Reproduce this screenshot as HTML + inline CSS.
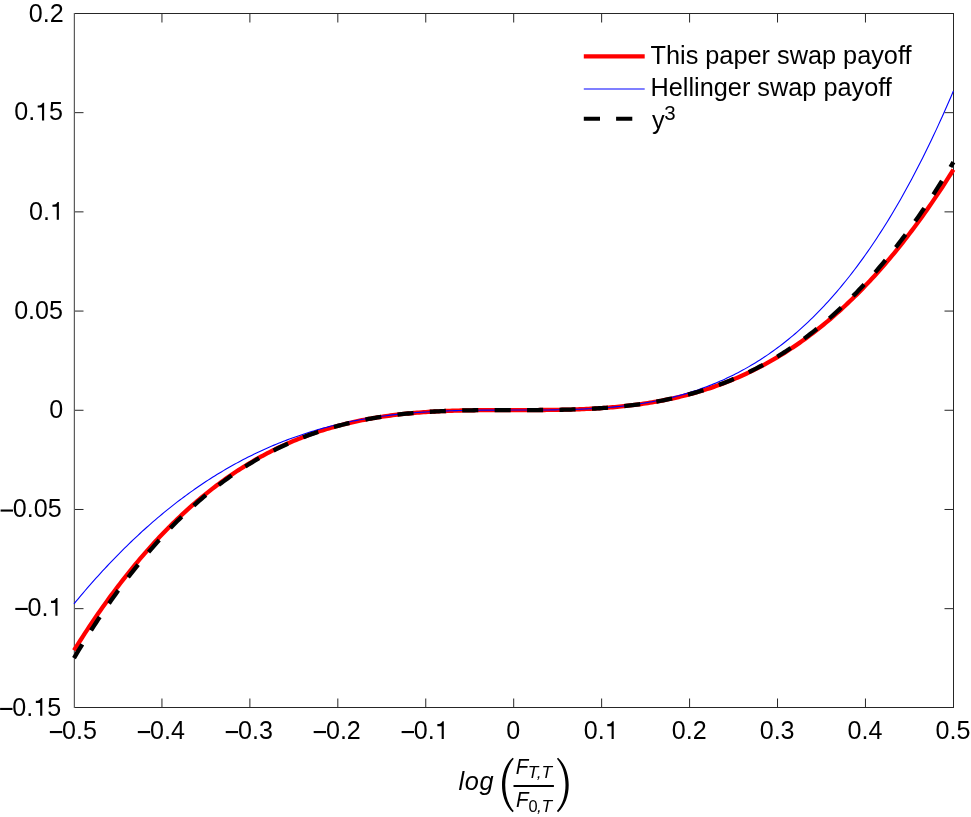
<!DOCTYPE html>
<html><head><meta charset="utf-8"><style>
html,body{margin:0;padding:0;background:#fff;}
body{width:971px;height:817px;overflow:hidden;}
svg{display:block;will-change:transform;}
text{font-family:"Liberation Sans",sans-serif;fill:#000;}
</style></head><body>
<svg width="971" height="817" viewBox="0 0 971 817">
<rect width="971" height="817" fill="#fff"/>
<path d="M161.94,707.5 V698.5 M161.94,13.5 V22.5 M249.88,707.5 V698.5 M249.88,13.5 V22.5 M337.82,707.5 V698.5 M337.82,13.5 V22.5 M425.76,707.5 V698.5 M425.76,13.5 V22.5 M513.70,707.5 V698.5 M513.70,13.5 V22.5 M601.64,707.5 V698.5 M601.64,13.5 V22.5 M689.58,707.5 V698.5 M689.58,13.5 V22.5 M777.52,707.5 V698.5 M777.52,13.5 V22.5 M865.46,707.5 V698.5 M865.46,13.5 V22.5 M74.5,112.67 H83.5 M953.5,112.67 H944.5 M74.5,211.87 H83.5 M953.5,211.87 H944.5 M74.5,311.07 H83.5 M953.5,311.07 H944.5 M74.5,410.27 H83.5 M953.5,410.27 H944.5 M74.5,509.47 H83.5 M953.5,509.47 H944.5 M74.5,608.67 H83.5 M953.5,608.67 H944.5" fill="none" stroke="#262626" stroke-width="1"/>
<path d="M74.0,13.5 H953.5 M74.0,707.5 H953.5 M953.5,13.0 V708.0" fill="none" stroke="#262626" stroke-width="1"/>
<rect x="74" y="13" width="1" height="695" fill="#5c5c5c"/><rect x="73" y="13" width="1" height="695" fill="#dadada"/>
<path d="M74.00,650.42 L76.20,646.91 L78.40,643.43 L80.60,639.98 L82.79,636.57 L84.99,633.19 L87.19,629.84 L89.39,626.53 L91.59,623.24 L93.79,619.99 L95.99,616.77 L98.18,613.59 L100.38,610.43 L102.58,607.31 L104.78,604.22 L106.98,601.16 L109.18,598.13 L111.37,595.14 L113.57,592.17 L115.77,589.24 L117.97,586.34 L120.17,583.46 L122.37,580.62 L124.57,577.81 L126.76,575.03 L128.96,572.28 L131.16,569.56 L133.36,566.86 L135.56,564.20 L137.76,561.57 L139.96,558.97 L142.15,556.39 L144.35,553.85 L146.55,551.34 L148.75,548.85 L150.95,546.39 L153.15,543.96 L155.34,541.56 L157.54,539.19 L159.74,536.84 L161.94,534.53 L164.14,532.24 L166.34,529.98 L168.54,527.75 L170.73,525.54 L172.93,523.36 L175.13,521.21 L177.33,519.08 L179.53,516.99 L181.73,514.91 L183.93,512.87 L186.12,510.85 L188.32,508.86 L190.52,506.89 L192.72,504.95 L194.92,503.04 L197.12,501.15 L199.31,499.28 L201.51,497.44 L203.71,495.63 L205.91,493.84 L208.11,492.08 L210.31,490.34 L212.51,488.62 L214.70,486.93 L216.90,485.26 L219.10,483.62 L221.30,482.00 L223.50,480.40 L225.70,478.83 L227.90,477.28 L230.09,475.76 L232.29,474.25 L234.49,472.77 L236.69,471.32 L238.89,469.88 L241.09,468.47 L243.28,467.08 L245.48,465.71 L247.68,464.36 L249.88,463.04 L252.08,461.73 L254.28,460.45 L256.48,459.19 L258.67,457.95 L260.87,456.73 L263.07,455.53 L265.27,454.36 L267.47,453.20 L269.67,452.06 L271.87,450.94 L274.06,449.84 L276.26,448.77 L278.46,447.71 L280.66,446.67 L282.86,445.65 L285.06,444.65 L287.25,443.66 L289.45,442.70 L291.65,441.76 L293.85,440.83 L296.05,439.92 L298.25,439.03 L300.45,438.16 L302.64,437.30 L304.84,436.46 L307.04,435.64 L309.24,434.84 L311.44,434.05 L313.64,433.28 L315.84,432.53 L318.03,431.79 L320.23,431.07 L322.43,430.36 L324.63,429.67 L326.83,429.00 L329.03,428.34 L331.22,427.70 L333.42,427.07 L335.62,426.46 L337.82,425.86 L340.02,425.28 L342.22,424.71 L344.42,424.16 L346.61,423.62 L348.81,423.09 L351.01,422.58 L353.21,422.08 L355.41,421.59 L357.61,421.12 L359.81,420.66 L362.00,420.22 L364.20,419.78 L366.40,419.36 L368.60,418.95 L370.80,418.56 L373.00,418.17 L375.19,417.80 L377.39,417.44 L379.59,417.09 L381.79,416.75 L383.99,416.42 L386.19,416.10 L388.39,415.80 L390.58,415.50 L392.78,415.22 L394.98,414.94 L397.18,414.68 L399.38,414.42 L401.58,414.17 L403.78,413.94 L405.97,413.71 L408.17,413.49 L410.37,413.28 L412.57,413.08 L414.77,412.89 L416.97,412.71 L419.16,412.53 L421.36,412.36 L423.56,412.20 L425.76,412.05 L427.96,411.91 L430.16,411.77 L432.36,411.64 L434.55,411.51 L436.75,411.40 L438.95,411.29 L441.15,411.18 L443.35,411.08 L445.55,410.99 L447.75,410.91 L449.94,410.83 L452.14,410.75 L454.34,410.68 L456.54,410.61 L458.74,410.55 L460.94,410.50 L463.13,410.45 L465.33,410.40 L467.53,410.36 L469.73,410.32 L471.93,410.28 L474.13,410.25 L476.33,410.22 L478.52,410.20 L480.72,410.17 L482.92,410.16 L485.12,410.14 L487.32,410.12 L489.52,410.11 L491.72,410.10 L493.91,410.09 L496.11,410.09 L498.31,410.08 L500.51,410.08 L502.71,410.07 L504.91,410.07 L507.10,410.07 L509.30,410.07 L511.50,410.07 L513.70,410.07 L515.90,410.07 L518.10,410.07 L520.30,410.07 L522.49,410.07 L524.69,410.07 L526.89,410.06 L529.09,410.06 L531.29,410.05 L533.49,410.05 L535.69,410.04 L537.88,410.03 L540.08,410.02 L542.28,410.00 L544.48,409.98 L546.68,409.97 L548.88,409.94 L551.07,409.92 L553.27,409.89 L555.47,409.86 L557.67,409.82 L559.87,409.78 L562.07,409.74 L564.27,409.69 L566.46,409.64 L568.66,409.59 L570.86,409.53 L573.06,409.46 L575.26,409.39 L577.46,409.31 L579.66,409.23 L581.85,409.15 L584.05,409.06 L586.25,408.96 L588.45,408.85 L590.65,408.74 L592.85,408.63 L595.04,408.50 L597.24,408.37 L599.44,408.23 L601.64,408.09 L603.84,407.94 L606.04,407.78 L608.24,407.61 L610.43,407.43 L612.63,407.25 L614.83,407.06 L617.03,406.86 L619.23,406.65 L621.43,406.43 L623.62,406.20 L625.82,405.97 L628.02,405.72 L630.22,405.46 L632.42,405.20 L634.62,404.92 L636.82,404.64 L639.01,404.34 L641.21,404.04 L643.41,403.72 L645.61,403.39 L647.81,403.05 L650.01,402.70 L652.21,402.34 L654.40,401.97 L656.60,401.58 L658.80,401.19 L661.00,400.78 L663.20,400.36 L665.40,399.92 L667.60,399.48 L669.79,399.02 L671.99,398.55 L674.19,398.06 L676.39,397.56 L678.59,397.05 L680.79,396.52 L682.98,395.98 L685.18,395.43 L687.38,394.86 L689.58,394.28 L691.78,393.68 L693.98,393.07 L696.18,392.44 L698.37,391.80 L700.57,391.14 L702.77,390.47 L704.97,389.78 L707.17,389.07 L709.37,388.35 L711.57,387.61 L713.76,386.86 L715.96,386.09 L718.16,385.30 L720.36,384.50 L722.56,383.68 L724.76,382.84 L726.95,381.98 L729.15,381.11 L731.35,380.22 L733.55,379.31 L735.75,378.38 L737.95,377.44 L740.15,376.48 L742.34,375.49 L744.54,374.49 L746.74,373.47 L748.94,372.43 L751.14,371.37 L753.34,370.30 L755.54,369.20 L757.73,368.08 L759.93,366.94 L762.13,365.78 L764.33,364.61 L766.53,363.41 L768.73,362.19 L770.92,360.95 L773.12,359.69 L775.32,358.41 L777.52,357.10 L779.72,355.78 L781.92,354.43 L784.12,353.06 L786.31,351.67 L788.51,350.26 L790.71,348.82 L792.91,347.37 L795.11,345.89 L797.31,344.38 L799.51,342.86 L801.70,341.31 L803.90,339.74 L806.10,338.14 L808.30,336.52 L810.50,334.88 L812.70,333.21 L814.89,331.52 L817.09,329.80 L819.29,328.06 L821.49,326.30 L823.69,324.51 L825.89,322.70 L828.09,320.86 L830.28,318.99 L832.48,317.10 L834.68,315.19 L836.88,313.25 L839.08,311.28 L841.28,309.29 L843.48,307.27 L845.67,305.23 L847.87,303.15 L850.07,301.06 L852.27,298.93 L854.47,296.78 L856.67,294.60 L858.86,292.39 L861.06,290.16 L863.26,287.90 L865.46,285.61 L867.66,283.30 L869.86,280.95 L872.06,278.58 L874.25,276.18 L876.45,273.75 L878.65,271.29 L880.85,268.80 L883.05,266.29 L885.25,263.75 L887.45,261.17 L889.64,258.57 L891.84,255.94 L894.04,253.28 L896.24,250.58 L898.44,247.86 L900.64,245.11 L902.83,242.33 L905.03,239.52 L907.23,236.68 L909.43,233.80 L911.63,230.90 L913.83,227.97 L916.03,225.00 L918.22,222.01 L920.42,218.98 L922.62,215.92 L924.82,212.83 L927.02,209.71 L929.22,206.55 L931.41,203.37 L933.61,200.15 L935.81,196.90 L938.01,193.61 L940.21,190.30 L942.41,186.95 L944.61,183.57 L946.80,180.16 L949.00,176.71 L951.20,173.23 L953.40,169.72" fill="none" stroke="#ff0000" stroke-width="4.3" stroke-linejoin="round"/>
<path d="M74.00,603.83 L76.20,601.17 L78.40,598.53 L80.60,595.92 L82.79,593.33 L84.99,590.75 L87.19,588.21 L89.39,585.68 L91.59,583.17 L93.79,580.69 L95.99,578.23 L98.18,575.79 L100.38,573.37 L102.58,570.97 L104.78,568.60 L106.98,566.25 L109.18,563.91 L111.37,561.60 L113.57,559.32 L115.77,557.05 L117.97,554.80 L120.17,552.58 L122.37,550.37 L124.57,548.19 L126.76,546.03 L128.96,543.89 L131.16,541.77 L133.36,539.67 L135.56,537.59 L137.76,535.53 L139.96,533.49 L142.15,531.47 L144.35,529.48 L146.55,527.50 L148.75,525.55 L150.95,523.61 L153.15,521.69 L155.34,519.80 L157.54,517.92 L159.74,516.07 L161.94,514.23 L164.14,512.42 L166.34,510.62 L168.54,508.84 L170.73,507.09 L172.93,505.35 L175.13,503.63 L177.33,501.93 L179.53,500.25 L181.73,498.60 L183.93,496.95 L186.12,495.33 L188.32,493.73 L190.52,492.15 L192.72,490.58 L194.92,489.03 L197.12,487.51 L199.31,486.00 L201.51,484.51 L203.71,483.04 L205.91,481.58 L208.11,480.15 L210.31,478.73 L212.51,477.33 L214.70,475.95 L216.90,474.59 L219.10,473.24 L221.30,471.91 L223.50,470.60 L225.70,469.31 L227.90,468.03 L230.09,466.78 L232.29,465.54 L234.49,464.31 L236.69,463.11 L238.89,461.92 L241.09,460.75 L243.28,459.59 L245.48,458.45 L247.68,457.33 L249.88,456.22 L252.08,455.14 L254.28,454.06 L256.48,453.01 L258.67,451.97 L260.87,450.94 L263.07,449.94 L265.27,448.94 L267.47,447.97 L269.67,447.01 L271.87,446.06 L274.06,445.13 L276.26,444.22 L278.46,443.32 L280.66,442.44 L282.86,441.57 L285.06,440.71 L287.25,439.87 L289.45,439.05 L291.65,438.24 L293.85,437.45 L296.05,436.67 L298.25,435.90 L300.45,435.15 L302.64,434.41 L304.84,433.69 L307.04,432.98 L309.24,432.28 L311.44,431.60 L313.64,430.93 L315.84,430.28 L318.03,429.63 L320.23,429.01 L322.43,428.39 L324.63,427.79 L326.83,427.20 L329.03,426.62 L331.22,426.06 L333.42,425.50 L335.62,424.97 L337.82,424.44 L340.02,423.92 L342.22,423.42 L344.42,422.93 L346.61,422.45 L348.81,421.98 L351.01,421.53 L353.21,421.08 L355.41,420.65 L357.61,420.23 L359.81,419.82 L362.00,419.42 L364.20,419.03 L366.40,418.65 L368.60,418.28 L370.80,417.92 L373.00,417.57 L375.19,417.24 L377.39,416.91 L379.59,416.59 L381.79,416.28 L383.99,415.99 L386.19,415.70 L388.39,415.42 L390.58,415.15 L392.78,414.89 L394.98,414.63 L397.18,414.39 L399.38,414.16 L401.58,413.93 L403.78,413.71 L405.97,413.50 L408.17,413.30 L410.37,413.11 L412.57,412.92 L414.77,412.74 L416.97,412.57 L419.16,412.41 L421.36,412.25 L423.56,412.10 L425.76,411.96 L427.96,411.82 L430.16,411.69 L432.36,411.57 L434.55,411.45 L436.75,411.34 L438.95,411.24 L441.15,411.14 L443.35,411.05 L445.55,410.96 L447.75,410.88 L449.94,410.80 L452.14,410.73 L454.34,410.66 L456.54,410.60 L458.74,410.54 L460.94,410.49 L463.13,410.44 L465.33,410.39 L467.53,410.35 L469.73,410.31 L471.93,410.28 L474.13,410.25 L476.33,410.22 L478.52,410.19 L480.72,410.17 L482.92,410.15 L485.12,410.14 L487.32,410.12 L489.52,410.11 L491.72,410.10 L493.91,410.09 L496.11,410.09 L498.31,410.08 L500.51,410.08 L502.71,410.07 L504.91,410.07 L507.10,410.07 L509.30,410.07 L511.50,410.07 L513.70,410.07 L515.90,410.07 L518.10,410.07 L520.30,410.07 L522.49,410.07 L524.69,410.07 L526.89,410.06 L529.09,410.06 L531.29,410.05 L533.49,410.05 L535.69,410.04 L537.88,410.03 L540.08,410.02 L542.28,410.00 L544.48,409.98 L546.68,409.96 L548.88,409.94 L551.07,409.91 L553.27,409.89 L555.47,409.85 L557.67,409.82 L559.87,409.78 L562.07,409.73 L564.27,409.68 L566.46,409.63 L568.66,409.57 L570.86,409.51 L573.06,409.44 L575.26,409.37 L577.46,409.29 L579.66,409.20 L581.85,409.11 L584.05,409.01 L586.25,408.91 L588.45,408.80 L590.65,408.68 L592.85,408.56 L595.04,408.43 L597.24,408.29 L599.44,408.14 L601.64,407.98 L603.84,407.82 L606.04,407.65 L608.24,407.47 L610.43,407.28 L612.63,407.08 L614.83,406.87 L617.03,406.66 L619.23,406.43 L621.43,406.19 L623.62,405.94 L625.82,405.69 L628.02,405.42 L630.22,405.14 L632.42,404.85 L634.62,404.54 L636.82,404.23 L639.01,403.90 L641.21,403.57 L643.41,403.21 L645.61,402.85 L647.81,402.47 L650.01,402.08 L652.21,401.68 L654.40,401.26 L656.60,400.83 L658.80,400.39 L661.00,399.93 L663.20,399.46 L665.40,398.97 L667.60,398.46 L669.79,397.94 L671.99,397.41 L674.19,396.85 L676.39,396.29 L678.59,395.70 L680.79,395.10 L682.98,394.48 L685.18,393.85 L687.38,393.19 L689.58,392.52 L691.78,391.83 L693.98,391.13 L696.18,390.40 L698.37,389.65 L700.57,388.89 L702.77,388.11 L704.97,387.30 L707.17,386.48 L709.37,385.63 L711.57,384.77 L713.76,383.88 L715.96,382.98 L718.16,382.05 L720.36,381.10 L722.56,380.13 L724.76,379.13 L726.95,378.11 L729.15,377.07 L731.35,376.01 L733.55,374.92 L735.75,373.81 L737.95,372.68 L740.15,371.52 L742.34,370.33 L744.54,369.13 L746.74,367.89 L748.94,366.63 L751.14,365.35 L753.34,364.03 L755.54,362.70 L757.73,361.33 L759.93,359.94 L762.13,358.52 L764.33,357.07 L766.53,355.60 L768.73,354.09 L770.92,352.56 L773.12,351.00 L775.32,349.41 L777.52,347.78 L779.72,346.13 L781.92,344.45 L784.12,342.74 L786.31,341.00 L788.51,339.22 L790.71,337.42 L792.91,335.58 L795.11,333.71 L797.31,331.81 L799.51,329.87 L801.70,327.91 L803.90,325.90 L806.10,323.87 L808.30,321.80 L810.50,319.69 L812.70,317.55 L814.89,315.38 L817.09,313.16 L819.29,310.92 L821.49,308.63 L823.69,306.31 L825.89,303.96 L828.09,301.56 L830.28,299.13 L832.48,296.66 L834.68,294.15 L836.88,291.60 L839.08,289.01 L841.28,286.39 L843.48,283.72 L845.67,281.01 L847.87,278.27 L850.07,275.48 L852.27,272.65 L854.47,269.78 L856.67,266.86 L858.86,263.91 L861.06,260.91 L863.26,257.86 L865.46,254.78 L867.66,251.65 L869.86,248.47 L872.06,245.25 L874.25,241.99 L876.45,238.68 L878.65,235.32 L880.85,231.92 L883.05,228.47 L885.25,224.98 L887.45,221.43 L889.64,217.84 L891.84,214.20 L894.04,210.51 L896.24,206.77 L898.44,202.99 L900.64,199.15 L902.83,195.26 L905.03,191.32 L907.23,187.33 L909.43,183.29 L911.63,179.20 L913.83,175.06 L916.03,170.86 L918.22,166.61 L920.42,162.30 L922.62,157.94 L924.82,153.53 L927.02,149.06 L929.22,144.54 L931.41,139.96 L933.61,135.33 L935.81,130.63 L938.01,125.89 L940.21,121.08 L942.41,116.22 L944.61,111.29 L946.80,106.31 L949.00,101.27 L951.20,96.17 L953.40,91.01" fill="none" stroke="#0000ff" stroke-width="1.1" stroke-linejoin="round"/>
<path d="M74.00,658.07 L76.20,654.37 L78.40,650.70 L80.60,647.08 L82.79,643.49 L84.99,639.93 L87.19,636.41 L89.39,632.93 L91.59,629.48 L93.79,626.07 L95.99,622.70 L98.18,619.36 L100.38,616.05 L102.58,612.79 L104.78,609.55 L106.98,606.35 L109.18,603.18 L111.37,600.05 L113.57,596.96 L115.77,593.89 L117.97,590.86 L120.17,587.87 L122.37,584.90 L124.57,581.97 L126.76,579.08 L128.96,576.21 L131.16,573.38 L133.36,570.58 L135.56,567.81 L137.76,565.08 L139.96,562.37 L142.15,559.70 L144.35,557.06 L146.55,554.45 L148.75,551.87 L150.95,549.33 L153.15,546.81 L155.34,544.32 L157.54,541.87 L159.74,539.44 L161.94,537.05 L164.14,534.68 L166.34,532.34 L168.54,530.04 L170.73,527.76 L172.93,525.51 L175.13,523.29 L177.33,521.10 L179.53,518.94 L181.73,516.80 L183.93,514.69 L186.12,512.62 L188.32,510.57 L190.52,508.54 L192.72,506.55 L194.92,504.58 L197.12,502.64 L199.31,500.72 L201.51,498.83 L203.71,496.97 L205.91,495.13 L208.11,493.32 L210.31,491.54 L212.51,489.78 L214.70,488.05 L216.90,486.34 L219.10,484.66 L221.30,483.00 L223.50,481.37 L225.70,479.76 L227.90,478.18 L230.09,476.62 L232.29,475.08 L234.49,473.57 L236.69,472.08 L238.89,470.62 L241.09,469.18 L243.28,467.76 L245.48,466.36 L247.68,464.99 L249.88,463.64 L252.08,462.31 L254.28,461.00 L256.48,459.72 L258.67,458.46 L260.87,457.22 L263.07,456.00 L265.27,454.80 L267.47,453.62 L269.67,452.47 L271.87,451.33 L274.06,450.22 L276.26,449.12 L278.46,448.05 L280.66,446.99 L282.86,445.96 L285.06,444.94 L287.25,443.94 L289.45,442.97 L291.65,442.01 L293.85,441.07 L296.05,440.15 L298.25,439.25 L300.45,438.36 L302.64,437.50 L304.84,436.65 L307.04,435.82 L309.24,435.01 L311.44,434.21 L313.64,433.43 L315.84,432.67 L318.03,431.92 L320.23,431.20 L322.43,430.48 L324.63,429.79 L326.83,429.11 L329.03,428.44 L331.22,427.80 L333.42,427.16 L335.62,426.54 L337.82,425.94 L340.02,425.35 L342.22,424.78 L344.42,424.22 L346.61,423.68 L348.81,423.15 L351.01,422.63 L353.21,422.13 L355.41,421.64 L357.61,421.17 L359.81,420.70 L362.00,420.25 L364.20,419.82 L366.40,419.39 L368.60,418.98 L370.80,418.58 L373.00,418.20 L375.19,417.82 L377.39,417.46 L379.59,417.11 L381.79,416.77 L383.99,416.44 L386.19,416.12 L388.39,415.81 L390.58,415.51 L392.78,415.23 L394.98,414.95 L397.18,414.69 L399.38,414.43 L401.58,414.18 L403.78,413.94 L405.97,413.72 L408.17,413.50 L410.37,413.29 L412.57,413.09 L414.77,412.89 L416.97,412.71 L419.16,412.53 L421.36,412.37 L423.56,412.21 L425.76,412.05 L427.96,411.91 L430.16,411.77 L432.36,411.64 L434.55,411.52 L436.75,411.40 L438.95,411.29 L441.15,411.18 L443.35,411.09 L445.55,410.99 L447.75,410.91 L449.94,410.83 L452.14,410.75 L454.34,410.68 L456.54,410.61 L458.74,410.55 L460.94,410.50 L463.13,410.45 L465.33,410.40 L467.53,410.36 L469.73,410.32 L471.93,410.28 L474.13,410.25 L476.33,410.22 L478.52,410.20 L480.72,410.17 L482.92,410.16 L485.12,410.14 L487.32,410.12 L489.52,410.11 L491.72,410.10 L493.91,410.09 L496.11,410.09 L498.31,410.08 L500.51,410.08 L502.71,410.07 L504.91,410.07 L507.10,410.07 L509.30,410.07 L511.50,410.07 L513.70,410.07 L515.90,410.07 L518.10,410.07 L520.30,410.07 L522.49,410.07 L524.69,410.07 L526.89,410.06 L529.09,410.06 L531.29,410.05 L533.49,410.05 L535.69,410.04 L537.88,410.03 L540.08,410.02 L542.28,410.00 L544.48,409.98 L546.68,409.97 L548.88,409.94 L551.07,409.92 L553.27,409.89 L555.47,409.86 L557.67,409.82 L559.87,409.78 L562.07,409.74 L564.27,409.69 L566.46,409.64 L568.66,409.59 L570.86,409.53 L573.06,409.46 L575.26,409.39 L577.46,409.31 L579.66,409.23 L581.85,409.15 L584.05,409.05 L586.25,408.96 L588.45,408.85 L590.65,408.74 L592.85,408.62 L595.04,408.50 L597.24,408.37 L599.44,408.23 L601.64,408.09 L603.84,407.93 L606.04,407.77 L608.24,407.61 L610.43,407.43 L612.63,407.25 L614.83,407.05 L617.03,406.85 L619.23,406.64 L621.43,406.42 L623.62,406.19 L625.82,405.96 L628.02,405.71 L630.22,405.45 L632.42,405.19 L634.62,404.91 L636.82,404.63 L639.01,404.33 L641.21,404.02 L643.41,403.70 L645.61,403.37 L647.81,403.03 L650.01,402.68 L652.21,402.32 L654.40,401.94 L656.60,401.56 L658.80,401.16 L661.00,400.75 L663.20,400.32 L665.40,399.89 L667.60,399.44 L669.79,398.97 L671.99,398.50 L674.19,398.01 L676.39,397.51 L678.59,396.99 L680.79,396.46 L682.98,395.92 L685.18,395.36 L687.38,394.79 L689.58,394.20 L691.78,393.60 L693.98,392.98 L696.18,392.34 L698.37,391.70 L700.57,391.03 L702.77,390.35 L704.97,389.66 L707.17,388.94 L709.37,388.22 L711.57,387.47 L713.76,386.71 L715.96,385.93 L718.16,385.13 L720.36,384.32 L722.56,383.49 L724.76,382.64 L726.95,381.78 L729.15,380.89 L731.35,379.99 L733.55,379.07 L735.75,378.13 L737.95,377.17 L740.15,376.20 L742.34,375.20 L744.54,374.18 L746.74,373.15 L748.94,372.09 L751.14,371.02 L753.34,369.92 L755.54,368.81 L757.73,367.67 L759.93,366.52 L762.13,365.34 L764.33,364.14 L766.53,362.92 L768.73,361.68 L770.92,360.42 L773.12,359.14 L775.32,357.83 L777.52,356.50 L779.72,355.15 L781.92,353.78 L784.12,352.38 L786.31,350.96 L788.51,349.52 L790.71,348.06 L792.91,346.57 L795.11,345.06 L797.31,343.52 L799.51,341.96 L801.70,340.38 L803.90,338.77 L806.10,337.14 L808.30,335.48 L810.50,333.80 L812.70,332.09 L814.89,330.36 L817.09,328.60 L819.29,326.82 L821.49,325.01 L823.69,323.17 L825.89,321.31 L828.09,319.42 L830.28,317.50 L832.48,315.56 L834.68,313.59 L836.88,311.60 L839.08,309.57 L841.28,307.52 L843.48,305.44 L845.67,303.34 L847.87,301.20 L850.07,299.04 L852.27,296.85 L854.47,294.63 L856.67,292.38 L858.86,290.10 L861.06,287.80 L863.26,285.46 L865.46,283.09 L867.66,280.70 L869.86,278.27 L872.06,275.82 L874.25,273.33 L876.45,270.81 L878.65,268.27 L880.85,265.69 L883.05,263.08 L885.25,260.44 L887.45,257.77 L889.64,255.06 L891.84,252.33 L894.04,249.56 L896.24,246.76 L898.44,243.93 L900.64,241.06 L902.83,238.17 L905.03,235.24 L907.23,232.27 L909.43,229.28 L911.63,226.25 L913.83,223.18 L916.03,220.09 L918.22,216.96 L920.42,213.79 L922.62,210.59 L924.82,207.35 L927.02,204.09 L929.22,200.78 L931.41,197.44 L933.61,194.07 L935.81,190.66 L938.01,187.21 L940.21,183.73 L942.41,180.21 L944.61,176.65 L946.80,173.06 L949.00,169.44 L951.20,165.77 L953.40,162.07" fill="none" stroke="#000" stroke-width="4.3" stroke-dasharray="16.1 16.33" stroke-dashoffset="0"/>
<rect x="49.86" y="731.00" width="12.4" height="2.1" fill="#000"/>
<text transform="translate(62.11,739.00) scale(1,1.0)" font-size="25.1">0</text>
<text transform="translate(76.07,739.00) scale(1,1.0)" font-size="25.1">.</text>
<text transform="translate(83.04,739.00) scale(1,1.0)" font-size="25.1">5</text>
<rect x="137.80" y="731.00" width="12.4" height="2.1" fill="#000"/>
<text transform="translate(150.05,739.00) scale(1,1.0)" font-size="25.1">0</text>
<text transform="translate(164.01,739.00) scale(1,1.0)" font-size="25.1">.</text>
<text transform="translate(170.98,739.00) scale(1,1.0)" font-size="25.1">4</text>
<rect x="225.74" y="731.00" width="12.4" height="2.1" fill="#000"/>
<text transform="translate(237.99,739.00) scale(1,1.0)" font-size="25.1">0</text>
<text transform="translate(251.95,739.00) scale(1,1.0)" font-size="25.1">.</text>
<text transform="translate(258.92,739.00) scale(1,1.0)" font-size="25.1">3</text>
<rect x="313.68" y="731.00" width="12.4" height="2.1" fill="#000"/>
<text transform="translate(325.93,739.00) scale(1,1.0)" font-size="25.1">0</text>
<text transform="translate(339.89,739.00) scale(1,1.0)" font-size="25.1">.</text>
<text transform="translate(346.86,739.00) scale(1,1.0)" font-size="25.1">2</text>
<rect x="401.62" y="731.00" width="12.4" height="2.1" fill="#000"/>
<text transform="translate(413.87,739.00) scale(1,1.0)" font-size="25.1">0</text>
<text transform="translate(427.83,739.00) scale(1,1.0)" font-size="25.1">.</text>
<path d="M273,0 L359,0 L359,703 L305,703 C290,660 250,612 180,600 L102,594 L102,512 L273,512 Z" transform="translate(434.80,739.00) scale(0.02510,-0.02510)" fill="#000"/>
<text transform="translate(506.32,739.00) scale(1,1.0)" font-size="25.1">0</text>
<text transform="translate(583.80,739.00) scale(1,1.0)" font-size="25.1">0</text>
<text transform="translate(597.75,739.00) scale(1,1.0)" font-size="25.1">.</text>
<path d="M273,0 L359,0 L359,703 L305,703 C290,660 250,612 180,600 L102,594 L102,512 L273,512 Z" transform="translate(604.73,739.00) scale(0.02510,-0.02510)" fill="#000"/>
<text transform="translate(671.74,739.00) scale(1,1.0)" font-size="25.1">0</text>
<text transform="translate(685.69,739.00) scale(1,1.0)" font-size="25.1">.</text>
<text transform="translate(692.67,739.00) scale(1,1.0)" font-size="25.1">2</text>
<text transform="translate(759.68,739.00) scale(1,1.0)" font-size="25.1">0</text>
<text transform="translate(773.63,739.00) scale(1,1.0)" font-size="25.1">.</text>
<text transform="translate(780.61,739.00) scale(1,1.0)" font-size="25.1">3</text>
<text transform="translate(847.62,739.00) scale(1,1.0)" font-size="25.1">0</text>
<text transform="translate(861.57,739.00) scale(1,1.0)" font-size="25.1">.</text>
<text transform="translate(868.55,739.00) scale(1,1.0)" font-size="25.1">4</text>
<text transform="translate(935.56,739.00) scale(1,1.0)" font-size="25.1">0</text>
<text transform="translate(949.51,739.00) scale(1,1.0)" font-size="25.1">.</text>
<text transform="translate(956.49,739.00) scale(1,1.0)" font-size="25.1">5</text>
<text transform="translate(28.86,21.85) scale(1,1.0)" font-size="25.1">0</text>
<text transform="translate(42.82,21.85) scale(1,1.0)" font-size="25.1">.</text>
<text transform="translate(49.79,21.85) scale(1,1.0)" font-size="25.1">2</text>
<text transform="translate(14.20,120.45) scale(1,1.0)" font-size="25.1">0</text>
<text transform="translate(28.16,120.45) scale(1,1.0)" font-size="25.1">.</text>
<path d="M273,0 L359,0 L359,703 L305,703 C290,660 250,612 180,600 L102,594 L102,512 L273,512 Z" transform="translate(35.13,120.45) scale(0.02510,-0.02510)" fill="#000"/>
<text transform="translate(49.09,120.45) scale(1,1.0)" font-size="25.1">5</text>
<text transform="translate(28.96,219.65) scale(1,1.0)" font-size="25.1">0</text>
<text transform="translate(42.92,219.65) scale(1,1.0)" font-size="25.1">.</text>
<path d="M273,0 L359,0 L359,703 L305,703 C290,660 250,612 180,600 L102,594 L102,512 L273,512 Z" transform="translate(49.89,219.65) scale(0.02510,-0.02510)" fill="#000"/>
<text transform="translate(14.13,318.85) scale(1,1.0)" font-size="25.1">0</text>
<text transform="translate(28.09,318.85) scale(1,1.0)" font-size="25.1">.</text>
<text transform="translate(35.06,318.85) scale(1,1.0)" font-size="25.1">0</text>
<text transform="translate(49.02,318.85) scale(1,1.0)" font-size="25.1">5</text>
<text transform="translate(49.34,417.75) scale(1,1.0)" font-size="25.1">0</text>
<rect x="0.61" y="509.50" width="12.4" height="2.1" fill="#000"/>
<text transform="translate(12.86,517.35) scale(1,1.0)" font-size="25.1">0</text>
<text transform="translate(26.82,517.35) scale(1,1.0)" font-size="25.1">.</text>
<text transform="translate(33.79,517.35) scale(1,1.0)" font-size="25.1">0</text>
<text transform="translate(47.75,517.35) scale(1,1.0)" font-size="25.1">5</text>
<rect x="15.31" y="607.90" width="12.4" height="2.1" fill="#000"/>
<text transform="translate(27.56,615.75) scale(1,1.0)" font-size="25.1">0</text>
<text transform="translate(41.52,615.75) scale(1,1.0)" font-size="25.1">.</text>
<path d="M273,0 L359,0 L359,703 L305,703 C290,660 250,612 180,600 L102,594 L102,512 L273,512 Z" transform="translate(48.49,615.75) scale(0.02510,-0.02510)" fill="#000"/>
<rect x="0.11" y="707.90" width="12.4" height="2.1" fill="#000"/>
<text transform="translate(12.36,715.75) scale(1,1.0)" font-size="25.1">0</text>
<text transform="translate(26.32,715.75) scale(1,1.0)" font-size="25.1">.</text>
<path d="M273,0 L359,0 L359,703 L305,703 C290,660 250,612 180,600 L102,594 L102,512 L273,512 Z" transform="translate(33.29,715.75) scale(0.02510,-0.02510)" fill="#000"/>
<text transform="translate(47.25,715.75) scale(1,1.0)" font-size="25.1">5</text>
<path d="M583.8,56.4 H644.7" stroke="#ff0000" stroke-width="4.4"/>
<path d="M583.8,89 H644.7" stroke="#0000ff" stroke-width="1.15"/>
<path d="M583.8,118.65 H644.7" stroke="#000" stroke-width="4" stroke-dasharray="16.2 16.1"/>
<text transform="translate(650.50,63.50) scale(1,1.03)" text-anchor="start" font-size="25.3"  style="">This paper swap payoff</text>
<text transform="translate(650.50,96.30) scale(1,1.03)" text-anchor="start" font-size="25.3"  style="">Hellinger swap payoff</text>
<text transform="translate(651.90,129.30) scale(1,1.03)" text-anchor="start" font-size="25.3"  style="">y</text>
<text transform="translate(664.20,119.80) scale(1,1.03)" text-anchor="start" font-size="20.5"  style="">3</text>
<text transform="translate(458.60,790.30) scale(1,1.0)" text-anchor="start" font-size="25.3"  style="font-style:italic;letter-spacing:0.6px">log</text>
<path d="M512.63,757.63 C498.46,770.5 498.46,799.3 512.63,812.17 L513.77,811.03 C502.34,798.3 502.34,771.5 513.77,758.77 Z" fill="#000"/>
<path d="M512.63,757.63 C498.46,770.5 498.46,799.3 512.63,812.17 L513.77,811.03 C502.34,798.3 502.34,771.5 513.77,758.77 Z" fill="#000" transform="translate(1070.7,0) scale(-1,1)"/>
<text transform="translate(515.65,773.70) scale(1,1.045)" text-anchor="start" font-size="20.5"  style="font-style:italic">F</text>
<text transform="translate(527.64,777.70) scale(1,1.0)" text-anchor="start" font-size="17.4"  style="font-style:italic">T</text>
<text transform="translate(536.80,777.70) scale(1,1.0)" text-anchor="start" font-size="17.4"  style="font-style:italic">,</text>
<text transform="translate(541.54,777.70) scale(1,1.0)" text-anchor="start" font-size="17.4"  style="font-style:italic">T</text>
<rect x="513.5" y="785" width="40.4" height="2" fill="#000"/>
<text transform="translate(516.05,807.00) scale(1,1.045)" text-anchor="start" font-size="20.5"  style="font-style:italic">F</text>
<text transform="translate(528.46,811.55) scale(1,1.0)" text-anchor="start" font-size="16.4"  style="">0</text>
<text transform="translate(537.10,811.60) scale(1,1.0)" text-anchor="start" font-size="17.4"  style="font-style:italic">,</text>
<text transform="translate(541.54,811.70) scale(1,1.0)" text-anchor="start" font-size="17.4"  style="font-style:italic">T</text>
</svg></body></html>
